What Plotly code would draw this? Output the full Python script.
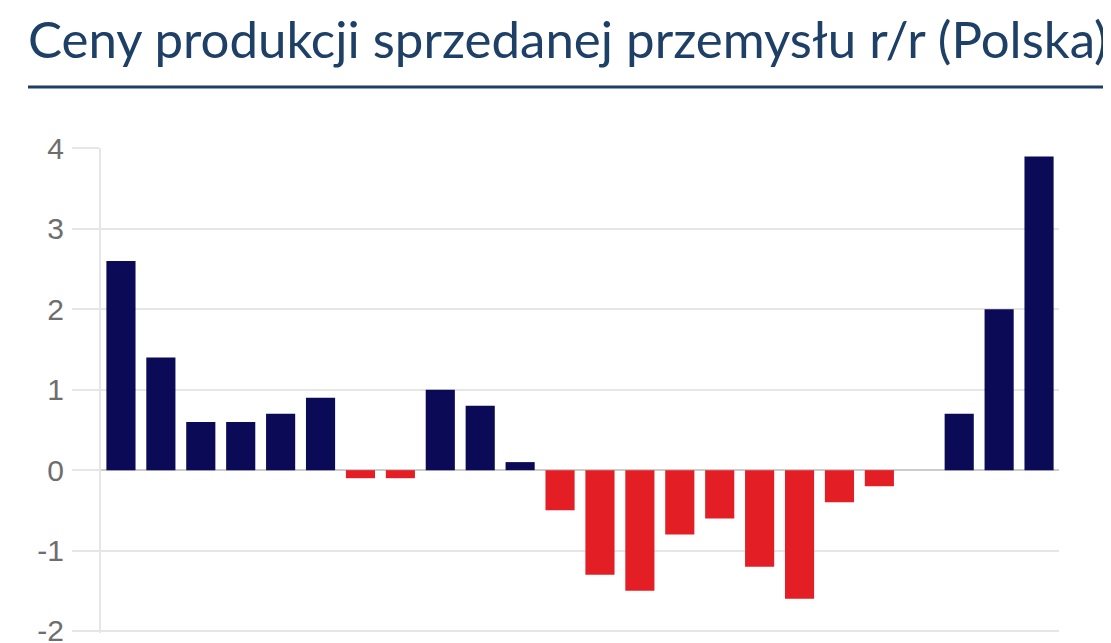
import plotly.graph_objects as go

# Ceny produkcji sprzedanej przemysłu, r/r (%)
okresy = list(range(24))
wartosci = [2.6, 1.4, 0.6, 0.6, 0.7, 0.9, -0.1, -0.1, 1.0, 0.8, 0.1, -0.5,
            -1.3, -1.5, -0.8, -0.6, -1.2, -1.6, -0.4, -0.2, 0.0, 0.7, 2.0, 3.9]
ticki_y = [-2, -1, 0, 1, 2, 3, 4]
etykiety_y = ["-2", "-1", "0", "1", "2", "3", "4"]
tytul = "Ceny produkcji sprzedanej przemysłu r/r (Polska)"

GRANAT = "#0a0a56"
CZERWONY = "#e31e24"
SIATKA = "#e6e6e6"

kolory = [GRANAT if v >= 0 else CZERWONY for v in wartosci]

fig = go.Figure(go.Bar(x=okresy, y=wartosci, marker_color=kolory,
                       marker_line_width=0, hoverinfo="y"))

# strona ma 8px marginesu body, stad rozmiar 1103x635
fig.update_layout(
    width=1103, height=635,
    margin=dict(l=93, r=52, t=140, b=10, autoexpand=False),
    paper_bgcolor="white", plot_bgcolor="white",
    bargap=0.27, showlegend=False,
    font=dict(family="Liberation Sans, Arial, sans-serif"),
    xaxis=dict(range=[-0.5, 23.5], showgrid=False, zeroline=False,
               showticklabels=False, ticks="", fixedrange=True,
               automargin=False),
    yaxis=dict(range=[-2.025, 4.006], tickvals=ticki_y, ticktext=etykiety_y,
               gridcolor=SIATKA, gridwidth=2, automargin=False,
               zeroline=True, zerolinecolor="#cccccc", zerolinewidth=2,
               showline=True, linecolor=SIATKA, linewidth=2,
               ticks="outside", ticklen=27, tickcolor=SIATKA, tickwidth=2,
               ticklabelstandoff=2, ticklabeloverflow="allow",
               tickfont=dict(size=30, color="#6e6e6e")),
)

fig.add_annotation(text=tytul, xref="paper", yref="paper", x=0, y=1,
                   xanchor="left", yanchor="bottom", xshift=-75, yshift=77,
                   showarrow=False,
                   font=dict(family="Lato, sans-serif", size=51, color="#1e3f66"))

fig.add_shape(type="line", xref="paper", yref="paper",
              x0=-73 / 958, x1=1.06, y0=(625 - 79) / 485, y1=(625 - 79) / 485,
              line=dict(color="#1e3f66", width=3))

fig.write_html("out.html")
